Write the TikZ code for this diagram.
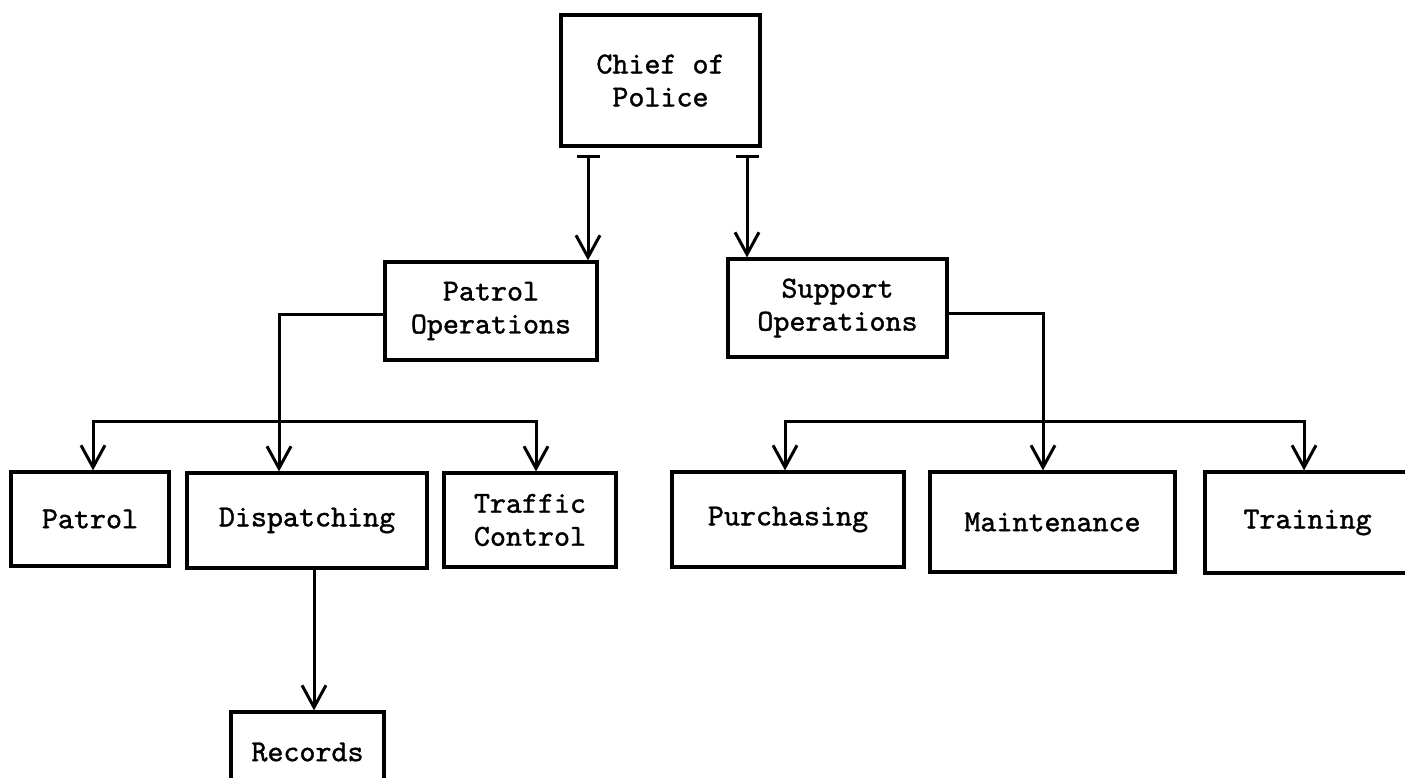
\documentclass[tikz,border=0pt]{standalone}
\usepackage{fontspec}
\newfontfamily\typewriter{lmmono10-regular.otf}[FakeBold=1.2]
\usetikzlibrary{arrows.meta,calc}
\begin{document}
\begin{tikzpicture}[x=1pt,y=-1pt,
  unit/.style={draw, line width=3.2pt, rectangle, inner sep=0pt, align=center,
    font=\fontsize{30.5}{33}\selectfont\typewriter},
  link/.style={line width=3pt, line join=miter},
  tip/.tip={Straight Barb[length=22pt,width=24pt]},
  feed/.style={link, -tip},
  fork/.style={link, tip-tip},
]
\useasboundingbox (0,0) rectangle (1405,778);
\fill[white] (0,0) rectangle (1405,778);

% top of the chain of command
\node[unit, minimum width=199pt, minimum height=131pt] (chief) at (660.5,80.5) {Chief of\\Police};

% the two operations branches
\node[unit, minimum width=212pt, minimum height=98pt] (pops) at (491,311) {Patrol\\Operations};
\node[unit, minimum width=219pt, minimum height=98pt] (sops) at (837.5,308) {Support\\Operations};

% patrol units
\node[unit, minimum width=158pt, minimum height=94pt] (patrol) at (90,519) {Patrol};
\node[unit, minimum width=240pt, minimum height=95pt] (disp) at (307,520.5) {Dispatching};
\node[unit, minimum width=172pt, minimum height=94pt] (traffic) at (530,520) {Traffic\\Control};
\node[unit, minimum width=153pt, minimum height=80pt] (records) at (307.5,752) {Records};

% support units
\node[unit, minimum width=232pt, minimum height=95pt] (purch) at (788,519.5) {Purchasing};
\node[unit, minimum width=245pt, minimum height=100pt] (maint) at (1052.5,522) {Maintenance};
\node[unit, minimum width=205pt, minimum height=101pt] (train) at (1307.5,522.5) {Training};

% connector anchor points
\coordinate (c1) at (588,155);
\coordinate (c2) at (747,155);
\coordinate (lj) at (279,421);
\coordinate (lb1) at (93,421);
\coordinate (lb3) at (536,421);
\coordinate (rj) at (1043,421);
\coordinate (rb1) at (785,421);
\coordinate (rb3) at (1304,421);
\coordinate (rx) at (314,0);

% chief to the two branches
\draw[link, {Bar[width=23pt]}-tip] (c1) -- (c1 |- pops.north);
\draw[link, {Bar[width=23pt]}-tip] (c2) -- (c2 |- sops.north);

% patrol operations to its units
\draw[link] (pops.west |- 0,314) -| (lj);
\draw[feed] (lj) -- (lj |- disp.north);
\draw[fork] (lb1 |- patrol.north) -- (lb1) -- (lb3) -- (lb3 |- traffic.north);
\draw[feed] (rx |- disp.south) -- (rx |- records.north);

% support operations to its units
\draw[link] (sops.east |- 0,313) -| (rj);
\draw[feed] (rj) -- (rj |- maint.north);
\draw[fork] (rb1 |- purch.north) -- (rb1) -- (rb3) -- (rb3 |- train.north);
\end{tikzpicture}
\end{document}
